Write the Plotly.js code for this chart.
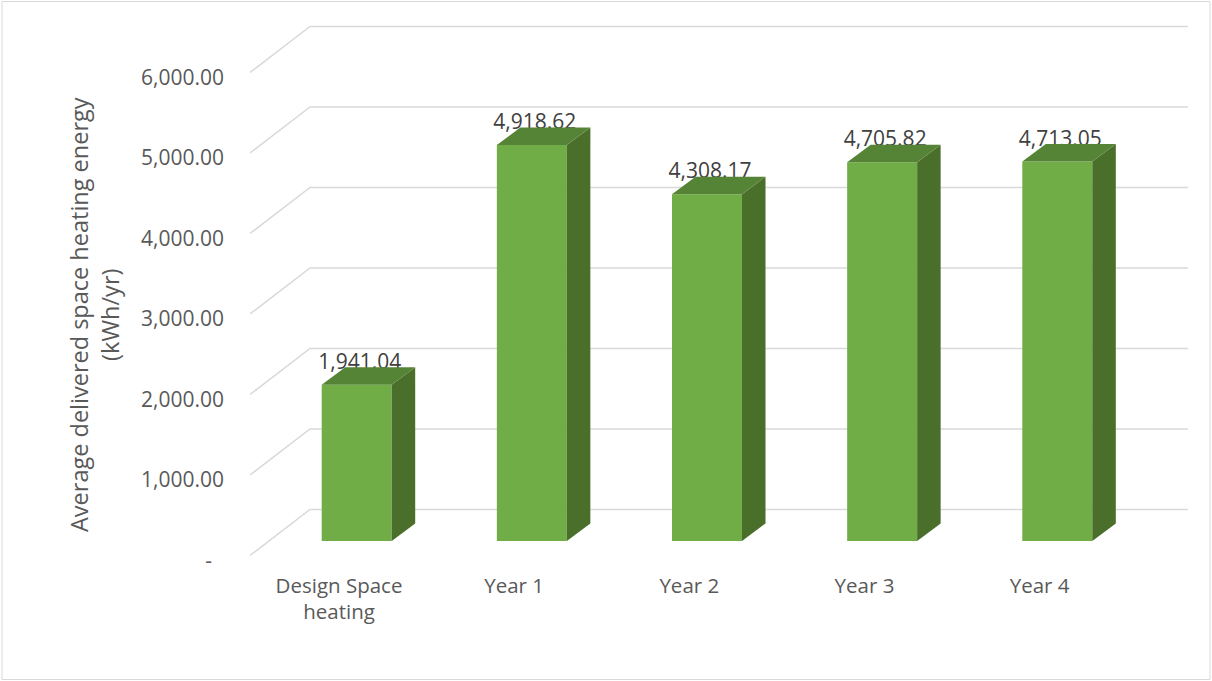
<!DOCTYPE html>
<html>
<head>
<meta charset="utf-8">
<script src="https://cdn.plot.ly/plotly-3.0.1.min.js"></script>
<style>
  html, body { margin: 0; padding: 0; background: #ffffff; }
  #chart { width: 1212px; height: 681px; }
</style>
</head>
<body>
<div id="chart"></div>
<script>
// ---- data ----
const categories = ['Design Space<br>heating', 'Year 1', 'Year 2', 'Year 3', 'Year 4'];
const values = [1941.04, 4918.62, 4308.17, 4705.82, 4713.05];
const yTickVals = [0, 1000, 2000, 3000, 4000, 5000, 6000];
const yTickText = ['-\u2007', '1,000.00', '2,000.00', '3,000.00', '4,000.00', '5,000.00', '6,000.00'];

// ---- geometry (pixel design, converted into axis units) ----
const W = 1212, H = 681;
const mL = 250, mR = 22, mT = 20, mB = 111;
const pxPerCat = 175.15;            // pixels per category step
const pxPerUnit = 0.0805;           // pixels per kWh/yr
const firstBarPx = 356.7;           // front-face centre of the first bar
const zeroPx = 555.5;               // front edge of floor for value 0
const plotW = W - mL - mR, plotH = H - mT - mB;
const xRange = [(mL - firstBarPx) / pxPerCat, (W - mR - firstBarPx) / pxPerCat];
const yRange = [(zeroPx - (H - mB)) / pxPerUnit, (zeroPx - mT) / pxPerUnit];
const toXU = px => px / pxPerCat;
const toYU = px => px / pxPerUnit;

const wallBack = toYU(46);          // depth of the floor (vertical shift)
const wallLeftX = xRange[0];
const wallBackX = (310 - firstBarPx) / pxPerCat;
const wallRightX = (1188 - firstBarPx) / pxPerCat;
const barBase = toYU(14.5);
const barW = toXU(70);
const depthX = toXU(23.5);
const depthY = toYU(17.5);
const labelDX = toXU(3);
const labelDY = toYU(21);
const catShift = toXU(-17.7);

const xs = categories.map((c, i) => i);

// gridlines (side wall + back wall)
const shapes = yTickVals.map(v => ({
  type: 'path', xref: 'x', yref: 'y', layer: 'below',
  path: `M ${wallLeftX},${v} L ${wallBackX},${v + wallBack} L ${wallRightX},${v + wallBack}`,
  line: { color: '#d9d9d9', width: 1.5 }
}));
// outer chart border
shapes.push({
  type: 'rect', xref: 'paper', yref: 'paper', layer: 'above',
  x0: (2 - mL) / plotW, x1: (1210 - mL) / plotW,
  y0: ((H - mB) - 679.5) / plotH, y1: ((H - mB) - 1.5) / plotH,
  line: { color: '#d9d9d9', width: 1 }
});

const traces = [];
// front faces
traces.push({
  type: 'bar', x: xs, y: values, base: values.map(() => barBase), width: barW,
  marker: { color: '#70ad47', line: { width: 0 } }, hoverinfo: 'skip', showlegend: false
});
// data labels (drawn before the top faces so the faces overlap them as in the original)
traces.push({
  type: 'scatter', mode: 'text', x: xs.map(x => x + labelDX),
  y: values.map(v => barBase + v + labelDY),
  text: values.map(v => v.toLocaleString('en-US', { minimumFractionDigits: 2, maximumFractionDigits: 2 })),
  textposition: 'middle center', cliponaxis: false,
  textfont: { family: 'Open Sans', size: 21, color: '#404040' },
  hoverinfo: 'skip', showlegend: false
});
values.forEach((v, i) => {
  const xl = i - barW / 2, xr = i + barW / 2, yb = barBase, yt = barBase + v;
  // right side face
  traces.push({
    type: 'scatter', mode: 'lines', fill: 'toself', fillcolor: '#4a6f2b',
    x: [xr, xr + depthX, xr + depthX, xr, xr],
    y: [yb, yb + depthY, yt + depthY, yt, yb],
    line: { width: 0, color: '#4a6f2b' }, hoverinfo: 'skip', showlegend: false
  });
  // top face
  traces.push({
    type: 'scatter', mode: 'lines', fill: 'toself', fillcolor: '#568437',
    x: [xl, xr, xr + depthX, xl + depthX, xl],
    y: [yt, yt, yt + depthY, yt + depthY, yt],
    line: { width: 0, color: '#568437' }, hoverinfo: 'skip', showlegend: false
  });
});

const layout = {
  width: W, height: H,
  margin: { l: mL, r: mR, t: mT, b: mB, pad: 0 },
  paper_bgcolor: '#ffffff', plot_bgcolor: 'rgba(0,0,0,0)',
  font: { family: 'Open Sans', color: '#595959' },
  showlegend: false, hovermode: false,
  xaxis: {
    range: xRange, showgrid: false, zeroline: false, showline: false, ticks: '',
    tickmode: 'array', tickvals: xs.map(x => x + catShift), ticktext: categories,
    tickfont: { family: 'Open Sans', size: 20.5, color: '#595959' },
    ticklabelstandoff: 1, fixedrange: true
  },
  yaxis: {
    range: yRange, showgrid: false, zeroline: false, showline: false, ticks: '',
    tickmode: 'array', tickvals: yTickVals, ticktext: yTickText,
    tickfont: { family: 'Open Sans', size: 21, color: '#595959' },
    ticklabelstandoff: 25, ticklabelshift: 5, fixedrange: true
  },
  shapes: shapes,
  annotations: [{
    xref: 'paper', yref: 'paper',
    x: (94 - mL) / plotW, y: ((H - mB) - 315) / plotH,
    xanchor: 'center', yanchor: 'middle', textangle: -90, showarrow: false,
    align: 'center',
    text: 'Average delivered space heating energy<br>(kWh/yr)',
    font: { family: 'Open Sans', size: 23.5, color: '#595959' }
  }]
};

Plotly.newPlot('chart', traces, layout, { staticPlot: true, displayModeBar: false });
</script>
</body>
</html>
